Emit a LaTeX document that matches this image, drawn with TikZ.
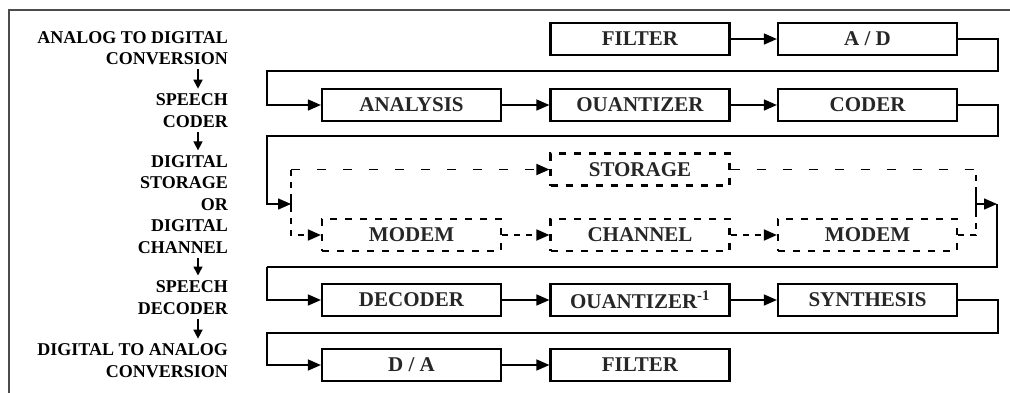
\documentclass[tikz,border=0pt]{standalone}
\usepackage{fontspec}
\setmainfont{Liberation Serif}
\usetikzlibrary{arrows.meta}
\begin{document}
\begin{tikzpicture}[x=1pt,y=-1pt,
  blk/.style={draw, line width=2.2pt, minimum width=179pt, minimum height=32pt, inner sep=0pt,
    font=\fontsize{21}{22}\selectfont\bfseries, text=black!85},
  dblk/.style={blk, dash pattern=on 7pt off 8pt},
  lbl/.style={align=right, anchor=east, inner sep=0pt, font=\fontsize{18}{21.5}\selectfont\bfseries},
  wire/.style={line width=1.5pt},
  conn/.style={wire, -{Triangle[length=13pt,width=11pt]}},
  dwire/.style={line width=1.8pt, dash pattern=on 9pt off 17pt},
  dconn/.style={conn, line width=1.8pt, dash pattern=on 9pt off 17pt},
  swire/.style={line width=1.8pt, dash pattern=on 6pt off 6pt},
  sconn/.style={conn, line width=1.8pt, dash pattern=on 6pt off 6pt},
  larr/.style={line width=1.5pt, -{Triangle[length=9pt,width=9pt]}, shorten <=4pt, shorten >=5pt}
]
\useasboundingbox (0,0) rectangle (1010,392);
% outer frame
\draw[line width=1.8pt, black!70] (9,393) -- (9,10) -- (1011,10);

% left labels
\coordinate (ax) at (198,0);
\node[lbl] (g1) at (228,48) {ANALOG TO DIGITAL\\CONVERSION};
\node[lbl] (g2) at (228,110.7) {SPEECH\\CODER};
\node[lbl] (g3) at (228,204.6) {DIGITAL\\STORAGE\\OR\\DIGITAL\\CHANNEL};
\node[lbl] (g4) at (228,297.5) {SPEECH\\DECODER};
\node[lbl] (g5) at (228,360.7) {DIGITAL TO ANALOG\\CONVERSION};
\draw[larr] (g1.south -| ax) -- (g2.north -| ax);
\draw[larr] (g2.south -| ax) -- (g3.north -| ax);
\draw[larr] (g3.south -| ax) -- (g4.north -| ax);
\draw[larr] (g4.south -| ax) -- (g5.north -| ax);

% blocks
\node[blk] (filterA) at (640,39) {FILTER};
\node[blk] (ad) at (867.5,39) {A / D};
\node[blk] (analysis) at (411.5,105) {ANALYSIS};
\node[blk] (quant) at (640,105) {OUANTIZER};
\node[blk] (coder) at (867.5,105) {CODER};
\node[dblk] (storage) at (640,169.5) {STORAGE};
\node[dblk] (modemA) at (411.5,235) {MODEM};
\node[dblk] (channel) at (640,235) {CHANNEL};
\node[dblk] (modemB) at (867.5,235) {MODEM};
\node[blk] (decoder) at (411.5,300) {DECODER};
\node[blk] (quantinv) at (640,300) {OUANTIZER\textsuperscript{-1}};
\node[blk] (synth) at (867.5,300) {SYNTHESIS};
\node[blk] (da) at (411.5,365) {D / A};
\node[blk] (filterB) at (640,365) {FILTER};

% routing coordinates
\coordinate (r1) at (998,71);   \coordinate (l1) at (267,71);
\coordinate (r2) at (998,136);  \coordinate (l2) at (267,136);
\coordinate (spl) at (291,204);
\coordinate (splt) at (291,169.5); \coordinate (splb) at (291,235);
\coordinate (tla) at (291,198); \coordinate (tlb) at (291,210);
\coordinate (mtop) at (976,169.5); \coordinate (mbot) at (976,235);
\coordinate (mrg) at (976,204);
\coordinate (tra) at (976,190); \coordinate (trb) at (976,211);
\coordinate (r3) at (997,204);
\coordinate (r4) at (997,267);  \coordinate (l4) at (267,267);
\coordinate (r5) at (998,333);  \coordinate (l5) at (267,333);

% row 1 and wrap
\draw[conn] (filterA) -- (ad);
\draw[conn] (ad.east) -| (r1) -- (l1) |- (analysis.west);
% row 2 and wrap
\draw[conn] (analysis) -- (quant);
\draw[conn] (quant) -- (coder);
\draw[conn] (coder.east) -| (r2) -- (l2) |- (spl);
\draw[wire] (tla) -- (tlb);
% storage / channel branches
\draw[dconn] (splt) -- (storage.west);
\draw[sconn] (splt) |- (modemA.west);
\draw[sconn] (modemA) -- (channel);
\draw[sconn] (channel) -- (modemB);
\draw[dwire] (storage.east) -- (mtop);
\draw[swire] (modemB.east) -| (mtop);
\draw[wire] (tra) -- (trb);
\draw[conn] (mrg) -- (r3);
\draw[wire] (r3) -- (r4) -- (l4);
\draw[conn] (l4) |- (decoder.west);
% row 5 and wrap
\draw[conn] (decoder) -- (quantinv);
\draw[conn] (quantinv) -- (synth);
\draw[conn] (synth.east) -| (r5) -- (l5) |- (da.west);
% row 6
\draw[conn] (da) -- (filterB);
\end{tikzpicture}
\end{document}
